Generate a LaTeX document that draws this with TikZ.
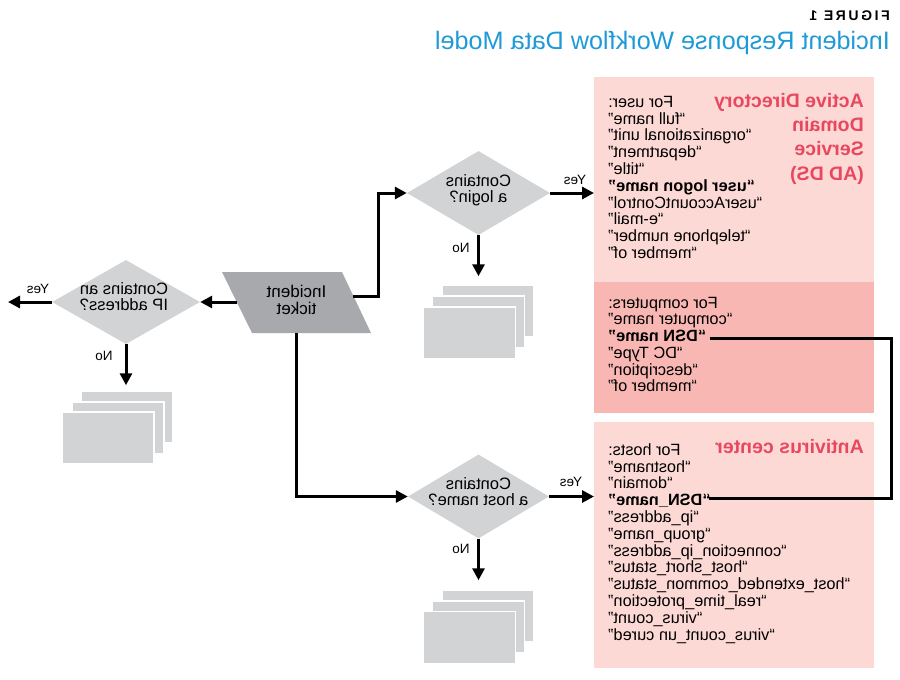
\documentclass[tikz,border=0pt]{standalone}
\usepackage{fontspec}
\usepackage{graphicx}
\setmainfont{Liberation Sans}
\usetikzlibrary{shapes.geometric,arrows.meta,calc}
\definecolor{lpink}{HTML}{FDD9D5}
\definecolor{dpink}{HTML}{F8B7B3}
\definecolor{dgray}{HTML}{D1D3D4}
\definecolor{tgray}{HTML}{A7A9AC}
\definecolor{tblue}{HTML}{1E9AD6}
\definecolor{tred}{HTML}{E8485F}
\newcommand{\mir}[2][c]{\reflectbox{\begin{tabular}{@{}#1@{}}#2\end{tabular}}}
\begin{document}
\begin{tikzpicture}[x=1pt,y=-1pt,
  arr/.style={line width=3pt,-{Triangle[length=12pt,width=12pt]}},
  cline/.style={line width=3pt},
  dia/.style={diamond,aspect=1.7,fill=dgray,inner sep=0pt,minimum width=143pt,minimum height=84pt},
  diatext/.style={inner sep=0pt,font=\fontsize{16.5}{16.5}\selectfont},
  doc/.style={rectangle,fill=dgray,draw=white,line width=1.5pt,minimum width=92pt,minimum height=52pt,inner sep=0pt},
  lab/.style={font=\fontsize{13.5}{13.5}\selectfont,inner sep=0pt},
  pbox/.style={rectangle,inner sep=0pt,anchor=north west,minimum width=280pt},
  list/.style={inner sep=0pt,anchor=north west,font=\fontsize{16.3}{16.7}\selectfont},
  rtitle/.style={inner sep=0pt,anchor=north east,text=tred,font=\fontsize{19.5}{24.3}\selectfont\bfseries}
]
\useasboundingbox (0,0) rectangle (900,680);

% titles
\node[anchor=base east,inner sep=0pt,font=\fontsize{14}{14}\selectfont\bfseries] (fig) at (890,20)
  {\reflectbox{F\kern2.6pt I\kern2.6pt G\kern2.6pt U\kern2.6pt R\kern2.6pt E\kern2.6pt\ 1}};
\node[anchor=base east,inner sep=0pt,text=tblue,font=\fontsize{25.2}{25}\selectfont] (title) at (890,49)
  {\reflectbox{Incident Response Workflow Data Model}};

% pink boxes
\node[pbox,fill=lpink,minimum height=205pt] (adbox) at (594,77) {};
\node[pbox,fill=dpink,minimum height=131pt] (compbox) at (594,282) {};
\node[pbox,fill=lpink,minimum height=246pt] (avbox) at (594,422) {};

\node[rtitle] (adtitle) at (864,90) {\mir[l]{Active Directory\\Domain\\Service\\(AD DS)}};
\node[list] (adlist) at (608,95.3) {\mir[r]{For user:\\``full name''\\``organizational unit''\\``department''\\``title''\\\textbf{``user logon name''}\\``userAccountControl''\\``e-mail''\\``telephone number''\\``member of''}};
\node[list] (complist) at (608,296.3) {\mir[r]{For computers:\\``computer name''\\\textbf{``DSN name''}\\``DC Type''\\``description''\\``member of''}};
\node[rtitle] (avtitle) at (864,436) {\mir[l]{Antivirus center}};
\node[list] (avlist) at (608,443.3) {\mir[r]{For hosts:\\``hostname''\\``domain''\\\textbf{``DSN\_name''}\\``ip\_address''\\``group\_name''\\``connection\_ip\_address''\\``host\_short\_status''\\``host\_extended\_common\_status''\\``real\_time\_protection''\\``virus\_count''\\``virus\_count\_un cured''}};

% DSN connector
\coordinate (dsnA) at (710,338);
\coordinate (dsnR) at (891,338);
\coordinate (dsnB) at (709,498);
\draw[cline] (dsnA) -- (dsnR) |- (dsnB);

% ticket
\fill[tgray] (222,272) -- (342,272) -- (371,333) -- (252,333) -- cycle;
\node[inner sep=0pt,font=\fontsize{17}{17}\selectfont] (ticket) at (296.5,302.5) {\mir{Incident\\ticket}};
\coordinate (tR) at (353,296);
\coordinate (tL) at (236.5,302);
\coordinate (tB) at (296,333);

% diamonds
\node[dia] (login) at (478.5,193) {};
\node[diatext] (logintxt) at (478.5,191) {\mir{Contains\\a login?}};
\node[dia,minimum width=148pt] (ip) at (126,302) {};
\node[diatext] (iptxt) at (124,299) {\mir{Contains an\\IP address?}};
\node[dia,minimum width=141pt] (host) at (478.5,496.5) {};
\node[diatext] (hosttxt) at (478.5,494) {\mir{Contains\\a host name?}};

% document stacks
\node[doc] (ls1) at (488,311) {};
\node[doc] (ls2) at (478.5,322) {};
\node[doc] (ls3) at (469.5,333) {};
\node[doc] (is1) at (127,417) {};
\node[doc] (is2) at (118,428) {};
\node[doc] (is3) at (108,438) {};
\node[doc] (hs1) at (488,616) {};
\node[doc] (hs2) at (478.5,627) {};
\node[doc] (hs3) at (469.5,637.5) {};

% connectors from ticket
\draw[arr] (tR) -- ++(25,0) |- (login.west);
\draw[arr] (tL) -- (ip.east);
\draw[arr] (tB) |- (host.west);

% yes arrows
\draw[arr] (login.east) -- (login.east -| adbox.west);
\draw[arr] (host.east) -- (host.east -| avbox.west);
\coordinate (ipyes) at (8,302);
\draw[arr] (ip.west) -- (ipyes);

% no arrows
\draw[arr,shorten >=8pt] (login.south) -- (login.south |- ls1.north);
\draw[arr,shorten >=5pt] (ip.south) -- (ip.south |- is1.north);
\draw[arr,shorten >=9pt] (host.south) -- (host.south |- hs1.north);

% labels
\node[lab] (lyes) at (575,180) {\reflectbox{Yes}};
\node[lab] (lno) at (461,248) {\reflectbox{No}};
\node[lab] (iyes) at (38,289) {\reflectbox{Yes}};
\node[lab] (ino) at (104,356) {\reflectbox{No}};
\node[lab] (hyes) at (571,482) {\reflectbox{Yes}};
\node[lab] (hno) at (461,549) {\reflectbox{No}};
\end{tikzpicture}
\end{document}
